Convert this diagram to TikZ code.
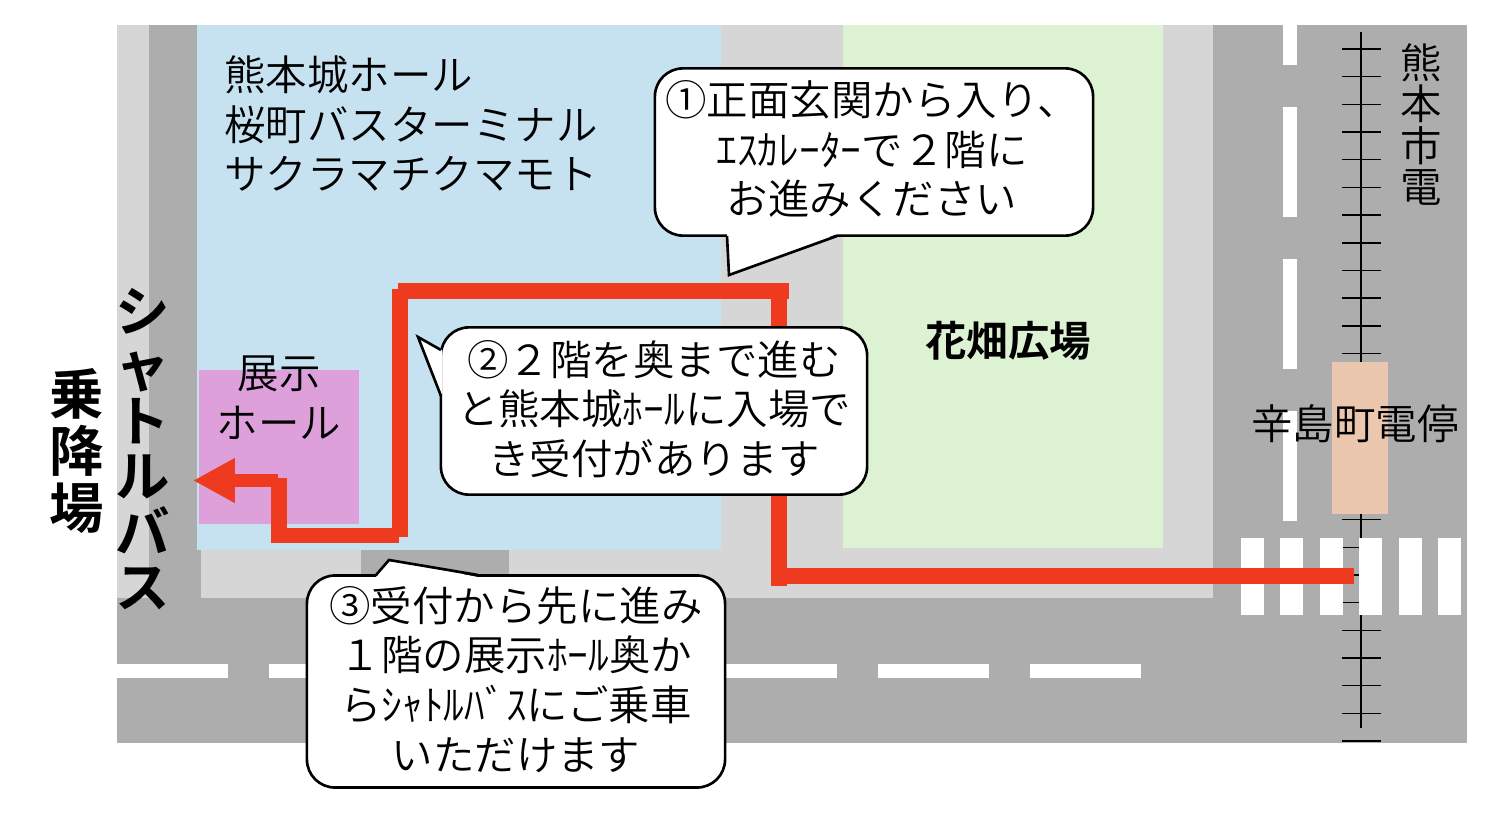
\documentclass[tikz,border=0pt]{standalone}
\usepackage{fontspec}
\setmainfont[BoldFont={Noto Sans CJK JP Bold}]{Noto Sans CJK JP DemiLight}
\usetikzlibrary{math,arrows.meta}
\tikzset{
  road/.style={fill=roadgray},
  walk/.style={fill=walkgray},
  whitebar/.style={fill=white},
  label/.style={inner sep=0pt, align=center, font=\fontsize{23.6}{28.35}\selectfont},
  boldlabel/.style={inner sep=0pt, align=center, font=\fontsize{31}{31.4}\selectfont\bfseries},
  routeline/.style={draw=routered, line width=9.07pt},
  bubble/.style={draw=black, fill=white, line width=1.5pt, rounded corners=16pt},
  bubbletail/.style={draw=black, line width=1.5pt, line join=miter},
}
\definecolor{roadgray}{HTML}{ADADAD}
\definecolor{walkgray}{HTML}{D6D6D6}
\definecolor{hallblue}{HTML}{C6E2F1}
\definecolor{parkgreen}{HTML}{DDF1D3}
\definecolor{hallpink}{HTML}{DDA0DB}
\definecolor{stoporange}{HTML}{ECC7B0}
\definecolor{routered}{HTML}{EE3A1F}
\begin{document}
\begin{tikzpicture}[x=0.02cm,y=-0.02cm]
  \useasboundingbox (0,0) rectangle (1498,822);
  % ground
  \fill[road] (117,25) rectangle (1467,743);
  \fill[walk] (117,25) rectangle (149,598);
  \fill[walk] (201,550) rectangle (1213,598);
  \fill[walk] (721,25) rectangle (1213,550);
  \fill[road] (361,550) rectangle (509,575);
  \fill[hallblue] (197,25) rectangle (721,550);
  \fill[parkgreen] (843,25) rectangle (1163,548);
  \fill[hallpink] (199,370) rectangle (359,524);
  % tram line, ties first
  \draw[line width=1.5pt] (1361,32) -- (1361,728);
  \tikzmath{%no empty lines in here
    for \i in {0,...,25} {
      \ty = 49 + 27.68 * \i;
      {\draw[line width=0.85pt] (1342,\ty) -- (1381,\ty);};
    };
    % road markings
    for \i in {0,...,6} {
      \dx = 117 + 152.2 * \i;
      {\fill[whitebar] (\dx,664) rectangle (\dx + 111,678);};
    };
    {\fill[whitebar] (1283,25) rectangle (1297,65);};
    for \i in {0,...,2} {
      \dy = 107 + 152 * \i;
      {\fill[whitebar] (1283,\dy) rectangle (1297,\dy + 110);};
    };
    for \i in {0,...,5} {
      \cx = 1241 + 39.4 * \i;
      {\fill[whitebar] (\cx,538) rectangle (\cx + 23,615);};
    };
  }
  \fill[stoporange] (1332,362) rectangle (1388,514);
  % route
  \coordinate (crossing) at (1354,576);
  \coordinate (corner1) at (771,576);
  \coordinate (corner1b) at (779,586);
  \coordinate (corner2) at (779,283);
  \coordinate (corner2b) at (789,291);
  \coordinate (corner3) at (398,291);
  \coordinate (corner3b) at (400,289);
  \coordinate (corner4) at (400,537);
  \coordinate (corner4b) at (399,535.5);
  \coordinate (corner5) at (279,535.5);
  \coordinate (corner5b) at (279,543);
  \coordinate (corner6) at (279,478);
  \coordinate (corner6b) at (278,480.5);
  \coordinate (bustip) at (193,480.5);
  \draw[routeline] (crossing) -- (corner1);
  \draw[routeline] (corner1b) -- (corner2);
  \draw[routeline] (corner2b) -- (corner3);
  \draw[routeline] (corner3b) -- (corner4);
  \draw[routeline] (corner4b) -- (corner5);
  \draw[routeline] (corner5b) -- (corner6);
  \draw[routeline, line width=7.4pt, -{Triangle[length=23.8pt,width=23.8pt]}] (corner6b) -- (bustip);
  % place names
  \node[label, anchor=west, align=left] (hallname) at (224,123.5) {熊本城ホール\\桜町バスターミナル\\サクラマチクマモト};
  \node[label] (exhibit) at (279,397.5) {展示\\ホール};
  \node[label, font=\fontsize{23.6}{28}\selectfont\bfseries] (park) at (1008,341) {花畑広場};
  \node[label] (tramstop) at (1355,424) {辛島町電停};
  \node[label, font=\fontsize{23.6}{23.6}\selectfont] (tramline) at (1421,124.5) {熊\\本\\市\\電};
  \node[boldlabel] (shuttle) at (143,449) {シ\\ャ\\ト\\ル\\バ\\ス};
  \node[boldlabel, font=\fontsize{31}{32.5}\selectfont\bfseries] (boarding) at (77,451) {乗\\降\\場};
  % callouts
  \node[bubble, minimum width=249.4pt, minimum height=95.2pt] (step1) at (874,152) {};
  \fill[white] (727,234) -- (729,275) -- (837,234) -- cycle;
  \draw[bubbletail] (727,236) -- (729,275) -- (837,236);
  \node[label] (step1text) at (872,149) {①正面玄関から入り、\\ｴｽｶﾚｰﾀｰで２階に\\お進みください};
  \node[bubble, minimum width=242.6pt, minimum height=95.2pt] (step2) at (654,411) {};
  \fill[white] (442,350) -- (418,337) -- (442,396) -- cycle;
  \draw[bubbletail] (441,350) -- (418,337) -- (441,396);
  \node[label] (step2text) at (654,409) {②２階を奥まで進む\\と熊本城ﾎｰﾙに入場で\\き受付があります};
  \node[bubble, minimum width=238pt, minimum height=120.7pt] (step3) at (516,681.5) {};
  \fill[white] (376,577) -- (389,560) -- (478,577) -- cycle;
  \draw[bubbletail] (376,575) -- (389,560) -- (478,575);
  \node[label] (step3text) at (516,679.5) {③受付から先に進み\\１階の展示ﾎｰﾙ奥か\\らｼｬﾄﾙﾊﾞｽにご乗車\\いただけます};
\end{tikzpicture}
\end{document}
